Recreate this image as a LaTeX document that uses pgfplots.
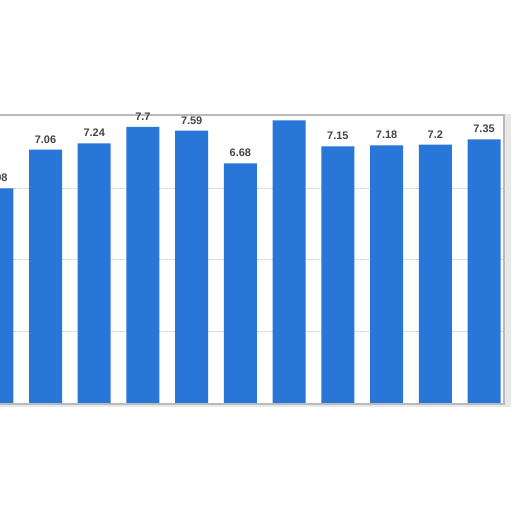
\documentclass[border=0pt]{standalone}
\usepackage{pgfplots}
\usepackage{pgfplotstable}
\usepackage{fontspec}
\setmainfont{Liberation Sans}
\pgfplotsset{compat=1.18}
\definecolor{barblue}{RGB}{41,118,217}
\definecolor{labgray}{RGB}{68,68,68}

\pgfplotstableread{
x y lab
0 5.98 5.98
1 7.06 7.06
2 7.24 7.24
3 7.70 7.7
4 7.59 7.59
5 6.68 6.68
6 7.88 {}
7 7.15 7.15
8 7.18 7.18
9 7.20 7.2
10 7.35 7.35
}\rates

\begin{document}
\begin{tikzpicture}
\useasboundingbox (0,0) rectangle (512bp,512bp);
\clip (0,0) rectangle (512bp,512bp);
\fill[white] (0,0) rectangle (512bp,512bp);
% soft shadow on the right and bottom of the card
\fill[gray!18] (503bp,106bp) rectangle (511bp,398bp);
\fill[gray!18] (0,105bp) rectangle (511bp,108bp);
% card border, under the labels
\draw[gray!55, line width=1.2bp] (0,397bp) -- (504bp,397bp) -- (504bp,108bp) -- (0,108bp);
\begin{axis}[
    at={(0,109bp)}, anchor=south west,
    scale only axis,
    width=504bp, height=287bp,
    xmin=0.066, xmax=10.41,
    ymin=0, ymax=8,
    clip=false,
    axis line style={draw=none},
    xtick=\empty,
    ytick={2,4,6},
    yticklabels={},
    major tick length=0pt,
    ymajorgrids=true,
    grid style={densely dotted, gray!35},
    ybar, bar width=33bp,
    nodes near coords,
    point meta=explicit symbolic,
    every node near coord/.append style={
        font=\bfseries\fontsize{11}{13}\selectfont,
        text=labgray, yshift=3bp},
]
\addplot[fill=barblue, draw=none] table[x=x, y=y, meta=lab] {\rates};
\end{axis}
\end{tikzpicture}
\end{document}
